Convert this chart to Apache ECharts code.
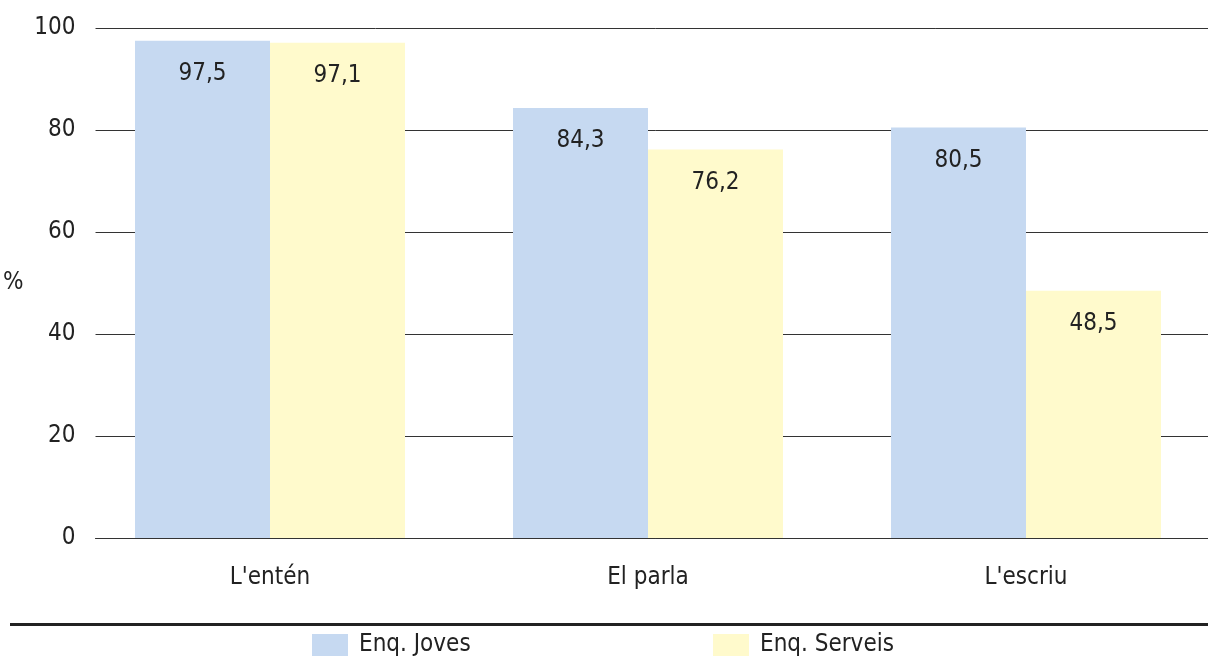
<!DOCTYPE html>
<html>
<head>
<meta charset="utf-8">
<script src="https://cdn.jsdelivr.net/npm/echarts@6/dist/echarts.min.js"></script>
<style>
html, body { margin: 0; padding: 0; background: #fff; overflow: hidden; }
#chart { width: 1215px; height: 660px; }
</style>
</head>
<body>
<div id="chart"></div>
<script>
const categories = ["L'entén", 'El parla', "L'escriu"];
const joves = [97.5, 84.3, 80.5];
const serveis = [97.1, 76.2, 48.5];
const yTicks = [0, 20, 40, 60, 80, 100];

const font = "'DejaVu Sans Condensed', 'Liberation Sans Narrow', 'Arial Narrow', sans-serif";
const colors = ['#c6d9f1', '#fffacc'];

const label = {
  show: true,
  position: 'insideTop',
  distance: 21,
  fontFamily: font,
  fontSize: 24,
  color: '#222',
  formatter: (p) => String(p.value).replace('.', ','),
};

const legendText = { fontFamily: font, fontSize: 24, color: '#222', padding: [0, 0, 0, 6] };
const yMin = yTicks[0];
const yMax = yTicks[yTicks.length - 1];

const chart = echarts.init(document.getElementById('chart'));
chart.setOption({
  animation: false,
  color: colors,
  // grid 0 holds the bars, grid 1 only draws the y labels and grid lines
  grid: [
    { left: 81, right: 0, top: 28, bottom: 122 },
    { left: 93, right: 0, top: 28, bottom: 122 },
  ],
  legend: [
    {
      left: 307,
      top: 628,
      itemWidth: 36,
      itemHeight: 22,
      icon: 'rect',
      textStyle: legendText,
      data: ['Enq. Joves'],
    },
    {
      left: 708,
      top: 628,
      itemWidth: 36,
      itemHeight: 22,
      icon: 'rect',
      textStyle: legendText,
      data: ['Enq. Serveis'],
    },
  ],
  xAxis: [
    {
      type: 'category',
      gridIndex: 0,
      data: categories,
      axisLine: { show: false },
      axisTick: { show: false },
      axisLabel: { margin: 28, fontFamily: font, fontSize: 24, color: '#222' },
    },
    {
      type: 'value',
      gridIndex: 1,
      axisLine: { show: true, lineStyle: { color: '#333', width: 1 } },
      axisTick: { show: false },
      axisLabel: { show: false },
      splitLine: { show: false },
    },
  ],
  yAxis: [
    {
      type: 'value',
      gridIndex: 0,
      min: yMin,
      max: yMax,
      interval: 20,
      axisLine: { show: false },
      axisTick: { show: false },
      axisLabel: { show: false },
      splitLine: { show: false },
    },
    {
      type: 'value',
      gridIndex: 1,
      min: yMin,
      max: yMax,
      interval: 20,
      name: '%',
      nameLocation: 'middle',
      nameRotate: 0,
      nameGap: 72,
      nameTextStyle: { fontFamily: font, fontSize: 24, color: '#222' },
      axisLine: { show: false },
      axisTick: { show: false },
      axisLabel: { margin: 20, fontFamily: font, fontSize: 24, color: '#222' },
      splitLine: { lineStyle: { color: '#333', width: 1 } },
    },
  ],
  graphic: [
    {
      type: 'rect',
      shape: { x: 10, y: 623, width: 1205, height: 3 },
      style: { fill: '#222' },
    },
  ],
  series: [
    {
      name: 'Enq. Joves',
      type: 'bar',
      barWidth: 135,
      barGap: '0%',
      data: joves,
      label,
    },
    {
      name: 'Enq. Serveis',
      type: 'bar',
      barWidth: 135,
      barGap: '0%',
      data: serveis,
      label,
    },
  ],
});
</script>
</body>
</html>
